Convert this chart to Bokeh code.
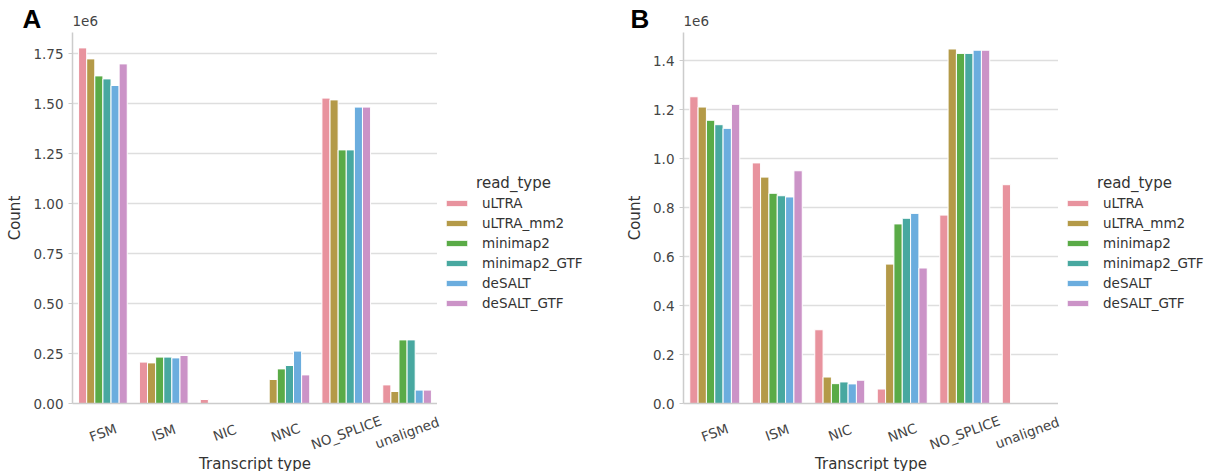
from bokeh.plotting import figure
from bokeh.models import (FactorRange, Range1d, FixedTicker, Legend, LegendItem,
                          Label, LabelSet, ColumnDataSource)
from bokeh.transform import dodge
from bokeh.layouts import row, column
from bokeh.embed import file_html
from bokeh.resources import INLINE
from bokeh.core.properties import value

categories = ["FSM", "ISM", "NIC", "NNC", "NO_SPLICE", "unaligned"]
read_types = ["uLTRA", "uLTRA_mm2", "minimap2", "minimap2_GTF", "deSALT", "deSALT_GTF"]
colors = ["#e8939e", "#b49a48", "#5aab47", "#48a8a0", "#6badde", "#cb93c7"]

# Panel A counts (order follows categories)
a_uLTRA        = [1778000, 207000, 20000,   1000, 1527000,  93000]
a_uLTRA_mm2    = [1723000, 203000,  1000, 120000, 1518000,  60000]
a_minimap2     = [1638000, 232000,  1000, 173000, 1268000, 318000]
a_minimap2_GTF = [1623000, 232000,  1000, 190000, 1268000, 318000]
a_deSALT       = [1590000, 228000,  1000, 262000, 1482000,  67000]
a_deSALT_GTF   = [1698000, 240000,  1000, 143000, 1482000,  67000]

# Panel B counts
b_uLTRA        = [1252000, 982000, 301000,  59000,  769000, 893000]
b_uLTRA_mm2    = [1210000, 924000, 108000, 569000, 1447000, 0]
b_minimap2     = [1156000, 858000,  81000, 733000, 1429000, 0]
b_minimap2_GTF = [1138000, 848000,  88000, 756000, 1429000, 0]
b_deSALT       = [1123000, 843000,  80000, 776000, 1442000, 0]
b_deSALT_GTF   = [1221000, 950000,  95000, 553000, 1442000, 0]

a_ticks = [0, 250000, 500000, 750000, 1000000, 1250000, 1500000, 1750000]
a_tick_labels = ["0.00", "0.25", "0.50", "0.75", "1.00", "1.25", "1.50", "1.75"]
b_ticks = [0, 200000, 400000, 600000, 800000, 1000000, 1200000, 1400000]
b_tick_labels = ["0.0", "0.2", "0.4", "0.6", "0.8", "1.0", "1.2", "1.4"]

FONT = "DejaVu Sans"
TXT = "#444444"
LBL = "#333333"
HEADER_H = 32
MAIN_FRAME_H = 371
MAIN_BOTTOM = 8
LABELS_H = 60
TOTAL_H = HEADER_H + MAIN_FRAME_H + MAIN_BOTTOM + LABELS_H


def make_panel(series, ticks, tick_labels, px_per_unit, letter, letter_x, left_border,
               frame_w, legend_w):
    data = {"cat": categories}
    for rt, vals in zip(read_types, series):
        data[rt] = vals
    src = ColumnDataSource(data)

    # --- main chart ---
    p = figure(x_range=FactorRange(*categories),
               y_range=Range1d(0, MAIN_FRAME_H / px_per_unit * 1e6),
               width=left_border + frame_w, height=MAIN_FRAME_H + MAIN_BOTTOM,
               min_border_left=left_border, min_border_right=0,
               min_border_top=0, min_border_bottom=MAIN_BOTTOM,
               output_backend="svg", toolbar_location=None)
    p.outline_line_color = None
    p.background_fill_color = "white"

    bw = 0.8 / len(read_types)
    for i, rt in enumerate(read_types):
        off = (i - (len(read_types) - 1) / 2) * bw
        p.vbar(x=dodge("cat", off, range=p.x_range), top=rt, width=bw, source=src,
               fill_color=colors[i], line_color="white", line_width=1)

    p.xgrid.grid_line_color = None
    p.ygrid.grid_line_color = "#dedede"
    p.ygrid.grid_line_width = 1.5

    ya = p.yaxis[0]
    ya.ticker = FixedTicker(ticks=ticks)
    ya.major_label_overrides = {t: l for t, l in zip(ticks, tick_labels)}
    ya.axis_line_color = "#cccccc"
    ya.axis_line_width = 1.5
    ya.major_tick_line_color = "#cccccc"
    ya.major_tick_out = 4
    ya.major_tick_in = 0
    ya.minor_tick_out = 0
    ya.minor_tick_in = 0
    ya.major_label_text_font = FONT
    ya.major_label_text_font_size = "13.5px"
    ya.major_label_text_color = TXT
    ya.major_label_standoff = 5
    ya.axis_label = "Count"
    ya.axis_label_text_font = FONT
    ya.axis_label_text_font_size = "15px"
    ya.axis_label_text_font_style = "normal"
    ya.axis_label_text_color = LBL
    ya.axis_label_standoff = 6

    xa = p.xaxis[0]
    xa.ticker = FixedTicker(ticks=[])
    xa.axis_line_color = "#cccccc"
    xa.axis_line_width = 1.5
    xa.major_tick_out = 0
    xa.major_tick_in = 0
    xa.minor_tick_out = 0
    xa.minor_tick_in = 0
    xa.major_label_standoff = 0
    xa.axis_label = None

    # --- category labels and x axis title (frame a few px wider than the chart) ---
    pad = 3
    lab_frame_w = frame_w + 2 * pad
    col_w = left_border + lab_frame_w
    lf = figure(x_range=FactorRange(*categories, range_padding=2 * pad / frame_w),
                y_range=Range1d(0, LABELS_H), width=col_w, height=LABELS_H,
                min_border_left=left_border, min_border_right=0, min_border_top=0,
                min_border_bottom=0, x_axis_location=None, y_axis_location=None,
                output_backend="svg", toolbar_location=None)
    lf.outline_line_color = None
    lf.grid.visible = False
    lab_src = ColumnDataSource({"cat": categories})
    lf.add_layout(LabelSet(x="cat", y=LABELS_H - 21, y_units="screen", text="cat",
                           source=lab_src, angle=20, angle_units="deg",
                           x_offset=-pad, text_align="center", text_baseline="middle",
                           text_font=value(FONT), text_font_size="13.5px",
                           text_color=TXT))
    lf.add_layout(Label(x=lab_frame_w / 2 - pad, y=8, x_units="screen", y_units="screen",
                        text="Transcript type", text_align="center",
                        text_baseline="middle", text_font=FONT, text_font_size="15px",
                        text_color=LBL))

    # --- header with panel letter and offset text ---
    h = figure(x_range=Range1d(0, 1), y_range=Range1d(0, 1), width=col_w,
               height=HEADER_H, min_border_left=left_border, min_border_right=0,
               min_border_top=0, min_border_bottom=0, x_axis_location=None,
               y_axis_location=None, output_backend="svg", toolbar_location=None)
    h.outline_line_color = None
    h.grid.visible = False
    h.add_layout(Label(x=letter_x, y=14, x_units="screen", y_units="screen",
                       text=letter, text_align="left", text_baseline="alphabetic",
                       text_font="Liberation Sans", text_font_style="bold",
                       text_font_size="26px", text_color="black"), "left")
    h.add_layout(Label(x=0, y=HEADER_H - 20, x_units="screen", y_units="screen",
                       text="1e6", text_align="left", text_baseline="middle",
                       text_font=FONT, text_font_size="13.5px", text_color=TXT))

    # --- legend panel ---
    lg = figure(width=legend_w, height=TOTAL_H, min_border=0,
                x_range=Range1d(0, 1), y_range=Range1d(0, 1),
                x_axis_location=None, y_axis_location=None,
                output_backend="svg", toolbar_location=None)
    lg.outline_line_color = None
    lg.grid.visible = False
    items = []
    for i, rt in enumerate(read_types):
        r = lg.vbar(x=[0], top=[0], width=0, fill_color=colors[i],
                    line_color="white", line_width=1)
        items.append(LegendItem(label=rt, renderers=[r]))
    legend = Legend(items=items, location=(0, 160), glyph_width=27,
                    glyph_height=8, label_height=17, spacing=3, padding=0, margin=0,
                    label_standoff=12, border_line_color=None,
                    background_fill_alpha=0, label_text_font=FONT,
                    label_text_font_size="13.5px", label_text_color=LBL)
    lg.add_layout(legend, "center")
    lg.add_layout(Label(x=70, y=TOTAL_H - 182, x_units="screen",
                        y_units="screen", text="read_type", text_align="center",
                        text_baseline="middle", text_font=FONT, text_font_size="15px",
                        text_color=LBL))

    return row(column(h, p, lf), lg)


pa = make_panel([a_uLTRA, a_uLTRA_mm2, a_minimap2, a_minimap2_GTF, a_deSALT, a_deSALT_GTF],
                a_ticks, a_tick_labels, 200.0, "A", -31, 72, 365, 170)
pb = make_panel([b_uLTRA, b_uLTRA_mm2, b_minimap2, b_minimap2_GTF, b_deSALT, b_deSALT_GTF],
                b_ticks, b_tick_labels, 245.0, "B", -34, 70, 375, 143)

layout = row(pa, pb)
open("out.html", "w").write(file_html(layout, INLINE))
